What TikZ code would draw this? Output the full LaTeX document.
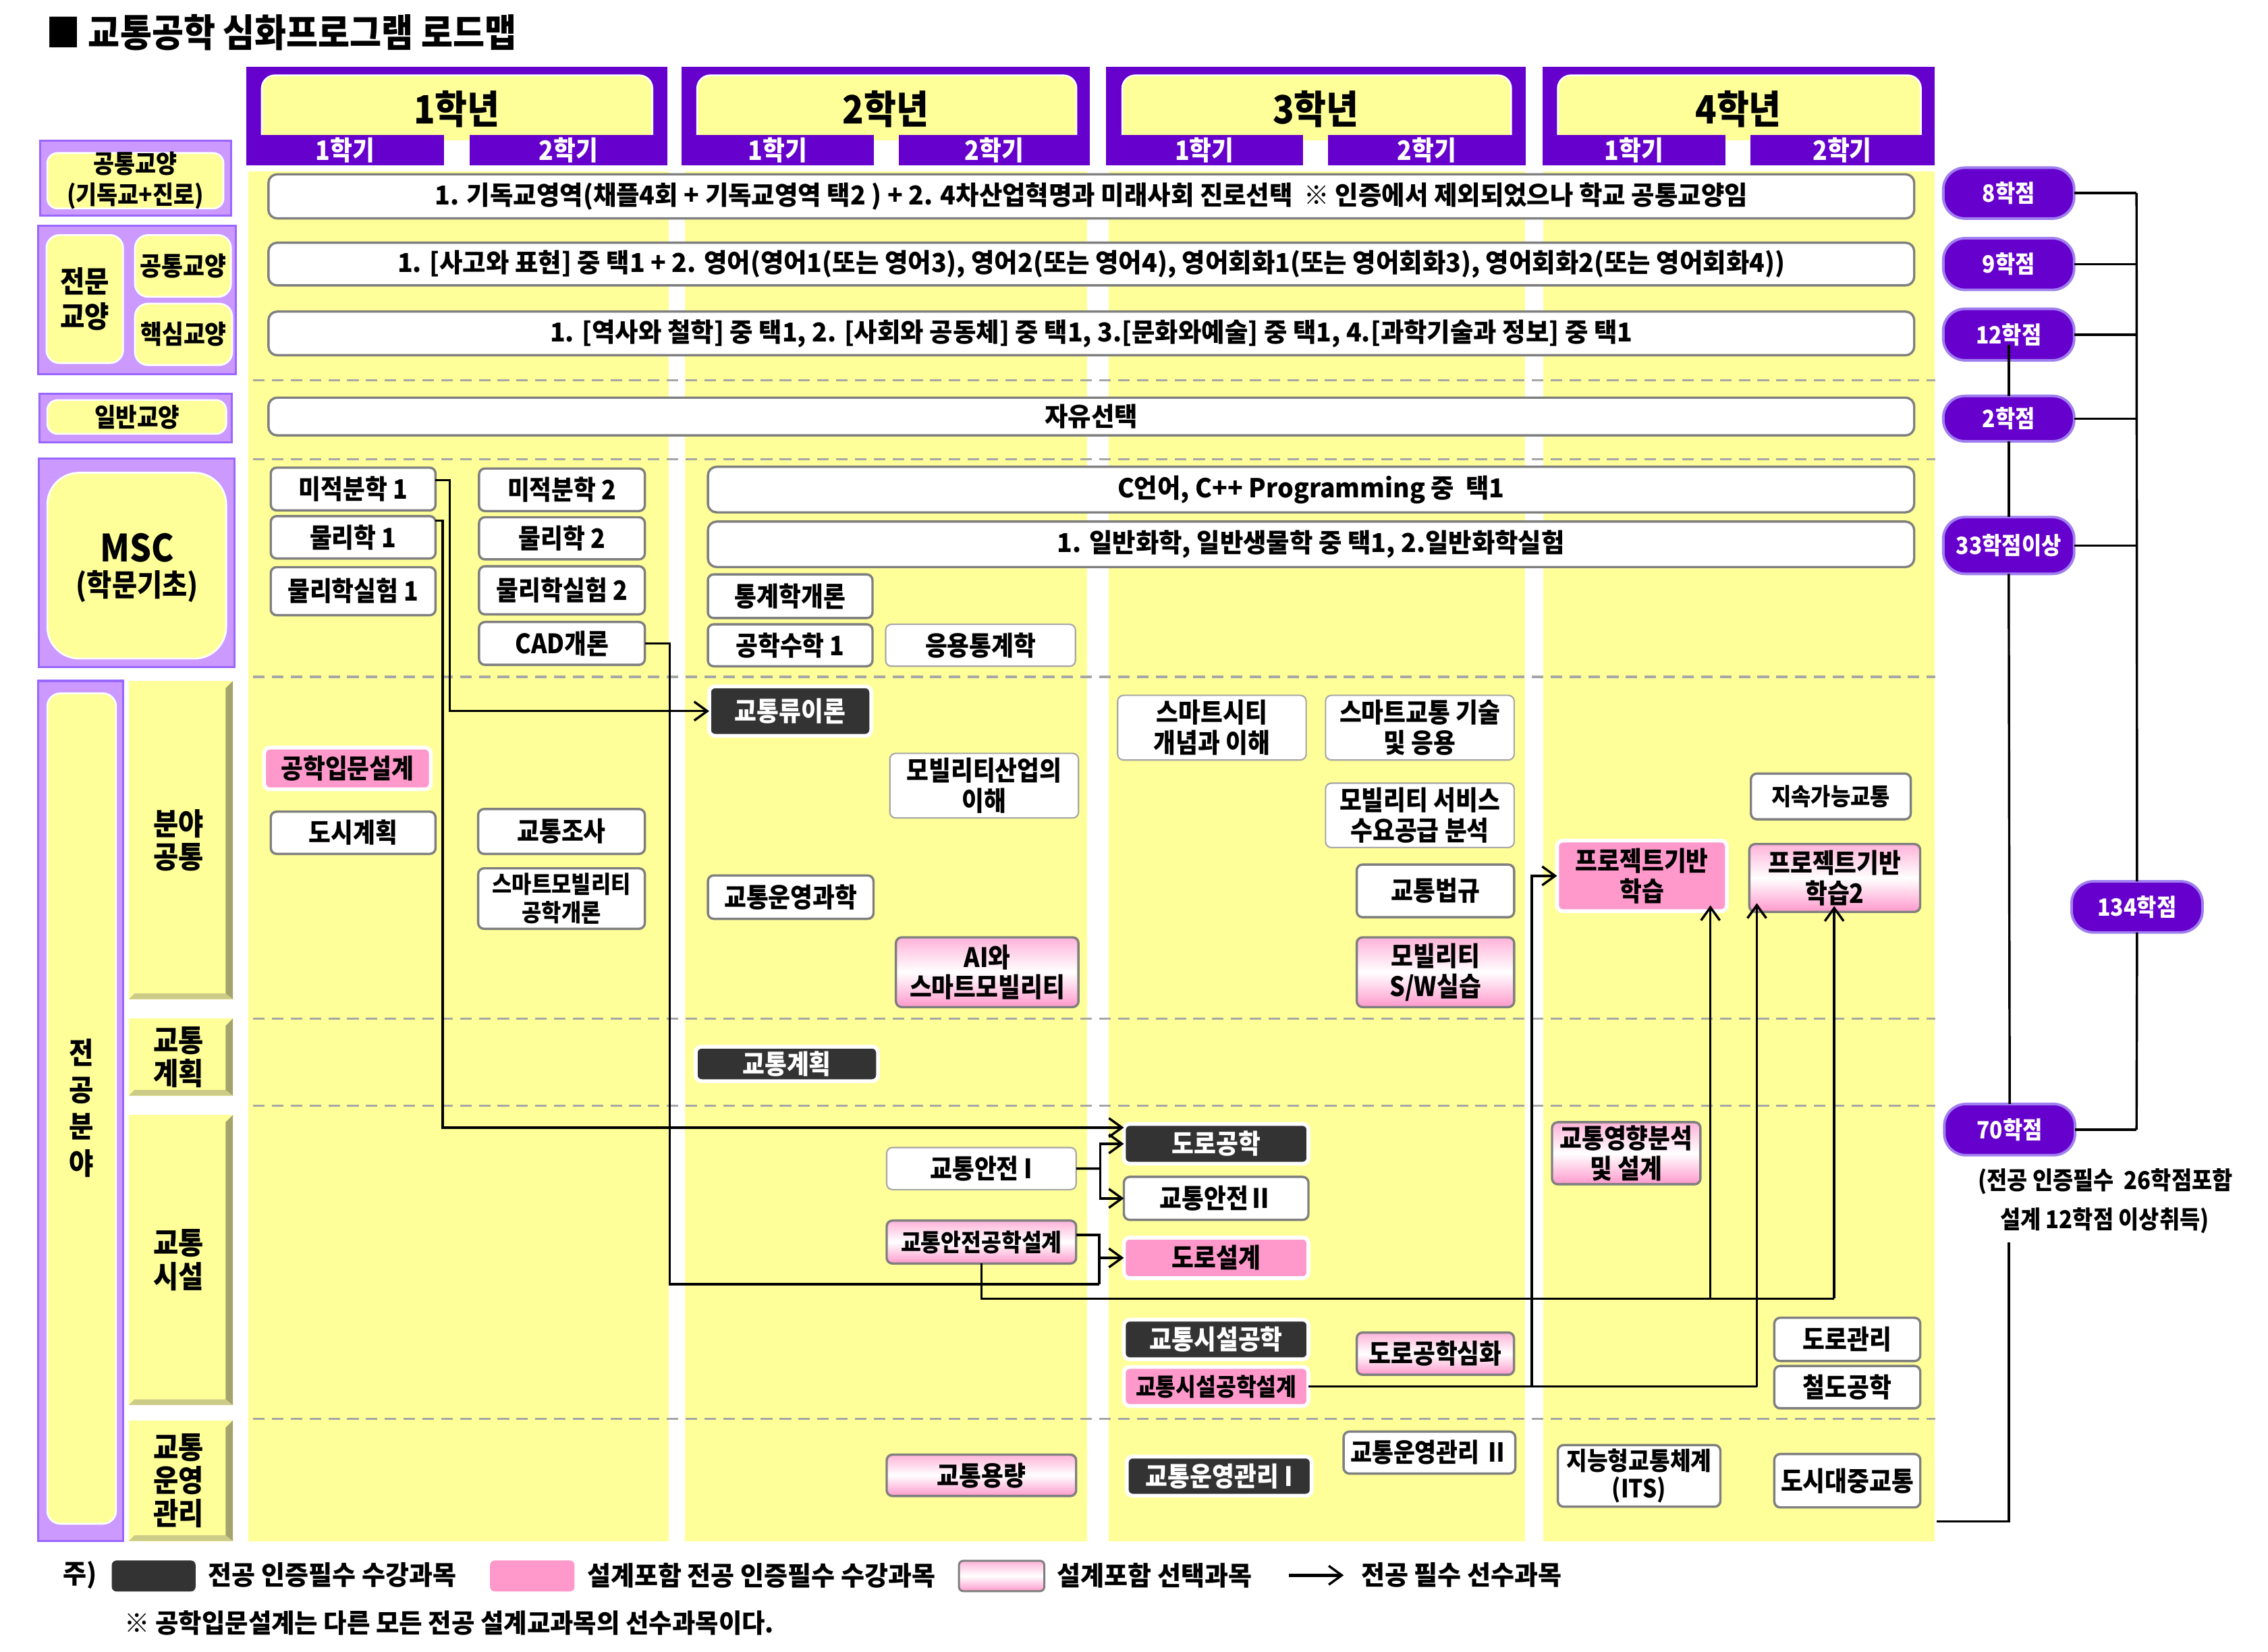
\documentclass[tikz,border=0pt]{standalone}
\usepackage{fontspec}
\setmainfont{Noto Sans CJK KR}[FakeStretch=0.9]
\newfontfamily\ttlfont{Noto Sans CJK KR}[FakeStretch=0.9]
\newfontfamily\rowfont{Noto Sans CJK KR}[FakeStretch=0.97]
\usetikzlibrary{arrows.meta}
\definecolor{purp}{HTML}{6600CC}
\definecolor{lav}{HTML}{CC99FF}
\definecolor{lavd}{HTML}{9966FF}
\definecolor{yel}{HTML}{FFFF99}
\definecolor{pinkS}{HTML}{FF99CC}
\definecolor{dark}{HTML}{333333}
\definecolor{boxgray}{HTML}{7F7F7F}
\definecolor{thingray}{HTML}{A6A6A6}
\definecolor{dashgray}{HTML}{A6A6A6}
\definecolor{oliveD}{HTML}{A3A36B}
\definecolor{oliveL}{HTML}{CCCC88}
\definecolor{pillB}{HTML}{9F7FEF}
\newcommand{\fz}[2]{\fontsize{#1}{#2}\selectfont}
\newcommand{\cbx}[7]{\node[#2, minimum width={#5pt-#3pt}, minimum height={#6pt-#4pt}] (#1) at ({(#3+#5)/2},{(#4+#6)/2}) {#7};}
\newcommand{\subcat}[4]{%
  \fill[yel] (89,#2) rectangle (161,#3);
  \fill[oliveD] (156,{#2+5}) -- (161,#2) -- (161,#3) -- (156,{#3-4}) -- cycle;
  \fill[oliveL] (89,#3) -- (161,#3) -- (156,{#3-4}) -- (93,{#3-4}) -- cycle;
  \node[font=\bfseries\fz{21}{23}] (#1) at (123.5,{(#2+#3)/2}) {#4};}
\tikzset{
  every node/.style={inner sep=0pt, outer sep=0pt, align=center, font=\bfseries\fz{18.5}{20.8}},
  wb/.style={draw=boxgray, line width=1.6pt, fill=white, rounded corners=4pt},
  wt/.style={draw=thingray, line width=1pt, fill=white, rounded corners=4pt},
  db/.style={draw=white, line width=2.6pt, fill=dark, rounded corners=4pt, text=white},
  pb/.style={draw=white, line width=2.6pt, fill=pinkS, rounded corners=4pt},
  gb/.style={draw=boxgray, line width=1.6pt, top color=pinkS!75, bottom color=pinkS, middle color=white, rounded corners=4pt},
  pill/.style={draw=pillB, line width=1.8pt, fill=purp, rounded corners=15pt, text=white, font=\bfseries\fz{16.5}{18}},
  rowb/.style={draw=boxgray, line width=1.6pt, fill=white, rounded corners=6pt, font=\rowfont\bfseries\fz{18}{20}},
  frame/.style={fill=lav, draw=lavd, line width=1.5pt},
  inner/.style={fill=yel, draw=white, line width=1.2pt},
  conn/.style={draw=black, line width=1.6pt},
  arr/.style={conn, -{Straight Barb[length=9pt,width=13pt,line width=1.6pt]}},
  dsh/.style={draw=dashgray, line width=1.5pt, dash pattern=on 8pt off 5pt},
  leg/.style={anchor=west, font=\rowfont\bfseries\fz{18.3}{20}},
}
\begin{document}
\begin{tikzpicture}[x=1pt,y=-1pt]
\useasboundingbox (0,0) rectangle (1568,1141.6);
\fill[white] (0,0) rectangle (1568,1141.6);
% title
\node[anchor=west, font=\ttlfont\bfseries\fz{26.5}{28}] (title) at (31.8,22.4) {■ 교통공학 심화프로그램 로드맵};
% yellow columns
\fill[yel] (171.8,118.7) rectangle (462.4,1065.4);
\fill[yel] (473.5,118.7) rectangle (751.6,1065.4);
\fill[yel] (766.3,118.7) rectangle (1054.4,1065.4);
\fill[yel] (1067.1,118.7) rectangle (1337.3,1065.4);
% year headers
\fill[purp] (170.2,46.2) rectangle (461.4,93.5);
\filldraw[inner, rounded corners=9pt] (181,52.1) rectangle (451,110);
\fill[purp] (170.2,93.1) rectangle (307,114.5);
\fill[purp] (324.7,93.1) rectangle (461.4,114.5);
\fill[white] (307,97) rectangle (324.7,114.6);
\node[font=\bfseries\fz{27}{28}] (y1) at (315.8,75.5) {1학년};
\node[text=white, font=\bfseries\fz{18.5}{20}] (y1a) at (238.6,104) {1학기};
\node[text=white, font=\bfseries\fz{18.5}{20}] (y1b) at (393,104) {2학기};
\fill[purp] (471.2,46.2) rectangle (753.5,93.5);
\filldraw[inner, rounded corners=9pt] (482,52.1) rectangle (744.2,110);
\fill[purp] (471.2,93.1) rectangle (604.2,114.5);
\fill[purp] (621.2,93.1) rectangle (753.5,114.5);
\fill[white] (604.2,97) rectangle (621.2,114.6);
\node[font=\bfseries\fz{27}{28}] (y2) at (612.3,75.5) {2학년};
\node[text=white, font=\bfseries\fz{18.5}{20}] (y2a) at (537.7,104) {1학기};
\node[text=white, font=\bfseries\fz{18.5}{20}] (y2b) at (687.3,104) {2학기};
\fill[purp] (764.7,46.2) rectangle (1054.8,93.5);
\filldraw[inner, rounded corners=9pt] (775.9,52.1) rectangle (1044.7,110);
\fill[purp] (764.7,93.1) rectangle (900.8,114.5);
\fill[purp] (918.3,93.1) rectangle (1054.8,114.5);
\fill[white] (900.8,97) rectangle (918.3,114.6);
\node[font=\bfseries\fz{27}{28}] (y3) at (909.7,75.5) {3학년};
\node[text=white, font=\bfseries\fz{18.5}{20}] (y3a) at (832.7,104) {1학기};
\node[text=white, font=\bfseries\fz{18.5}{20}] (y3b) at (986.5,104) {2학기};
\fill[purp] (1066.4,46.2) rectangle (1337.3,93.5);
\filldraw[inner, rounded corners=9pt] (1077,52.1) rectangle (1328,110);
\fill[purp] (1066.4,93.1) rectangle (1193,114.5);
\fill[purp] (1210,93.1) rectangle (1337.3,114.5);
\fill[white] (1193,97) rectangle (1210,114.6);
\node[font=\bfseries\fz{27}{28}] (y4) at (1201.8,75.5) {4학년};
\node[text=white, font=\bfseries\fz{18.5}{20}] (y4a) at (1129.7,104) {1학기};
\node[text=white, font=\bfseries\fz{18.5}{20}] (y4b) at (1273.6,104) {2학기};
% left categories
\filldraw[frame] (27.8,97.3) rectangle (159.7,148.9);
\filldraw[inner, rounded corners=7pt] (32.7,105.8) rectangle (154.5,144.1);
\node[font=\bfseries\fz{17.5}{21.3}] (cat1) at (93.6,124.7) {공통교양\\(기독교+진로)};
\filldraw[frame] (26.2,156.2) rectangle (162.9,258.7);
\filldraw[inner, rounded corners=9pt] (32.1,162.5) rectangle (85.1,251);
\filldraw[inner, rounded corners=9pt] (93.3,162.5) rectangle (159.7,205.2);
\filldraw[inner, rounded corners=9pt] (93.3,209.9) rectangle (160.5,252.4);
\node[font=\bfseries\fz{20.5}{24}] (cat2) at (58.6,206.7) {전문\\교양};
\node[font=\bfseries\fz{18}{20}] (cat2a) at (126.5,183.8) {공통교양};
\node[font=\bfseries\fz{18}{20}] (cat2b) at (126.9,231) {핵심교양};
\filldraw[frame] (27.2,272.4) rectangle (160.4,305.8);
\filldraw[inner, rounded corners=7pt] (32.7,276.6) rectangle (156.4,299.9);
\node[font=\bfseries\fz{17.8}{20}] (cat3) at (94.8,288.3) {일반교양};
\filldraw[frame] (26.8,316.9) rectangle (162,461.1);
\filldraw[inner, rounded corners=22pt] (32.7,326.8) rectangle (156.4,455.3);
\node[font=\bfseries\fz{26}{28}] (msc) at (94.9,378.8) {MSC};
\node[font=\bfseries\fz{21}{22}] (msc2) at (94.9,405.4) {(학문기초)};
\filldraw[frame] (26.2,470.7) rectangle (85.1,1065.4);
\filldraw[inner, rounded corners=9pt] (32.7,479.3) rectangle (80.2,1053.4);
\node[font=\bfseries\fz{20.5}{25.4}] (major) at (56.3,766) {전\\공\\분\\야};
\subcat{s1}{470.7}{690.8}{분야\\공통}
\subcat{s2}{704.1}{757.5}{교통\\계획}
\subcat{s3}{770.8}{971.4}{교통\\시설}
\subcat{s4}{981.9}{1065.4}{교통\\운영\\관리}
% dashed separators
\draw[dsh] (175,262.8) -- (1338,262.8);
\draw[dsh] (175,317.5) -- (1338,317.5);
\draw[dsh] (175,467.9) -- (1338,467.9);
\draw[dsh] (175,704.1) -- (1338,704.1);
\draw[dsh] (175,764.4) -- (1338,764.4);
\draw[dsh] (175,981) -- (1338,981);
% wide rows
\cbx{r1}{rowb}{185.6}{120.5}{1323.4}{151}{1. 기독교영역(채플4회 + 기독교영역 택2 ) + 2. 4차산업혁명과 미래사회 진로선택\ \ ※ 인증에서 제외되었으나 학교 공통교양임}
\cbx{r2}{rowb}{185.6}{167.8}{1323.4}{197.3}{1. [사고와 표현] 중 택1 + 2. 영어(영어1(또는 영어3), 영어2(또는 영어4), 영어회화1(또는 영어회화3), 영어회화2(또는 영어회화4))}
\cbx{r3}{rowb}{185.6}{215.4}{1323.4}{245.6}{1. [역사와 철학] 중 택1, 2. [사회와 공동체] 중 택1, 3.[문화와예술] 중 택1, 4.[과학기술과 정보] 중 택1}
\cbx{r4}{rowb}{185.6}{274.9}{1323.4}{301}{자유선택}
\cbx{cpp}{rowb}{489.4}{322.7}{1323.4}{354.2}{C언어, C++ Programming 중\ \ 택1}
\cbx{chem}{rowb}{489.4}{360.6}{1323.4}{392}{1. 일반화학, 일반생물학 중 택1, 2.일반화학실험}
% MSC courses
\cbx{mj1}{wb}{187.2}{323.3}{301.1}{352.9}{미적분학 1}
\cbx{ph1}{wb}{187.2}{356.8}{301.1}{386.1}{물리학 1}
\cbx{pl1}{wb}{187.2}{392.1}{301.1}{425.3}{물리학실험 1}
\cbx{mj2}{wb}{331.2}{323.9}{445.8}{353.3}{미적분학 2}
\cbx{ph2}{wb}{331.2}{357.6}{445.8}{386.7}{물리학 2}
\cbx{pl2}{wb}{331.2}{391.5}{445.8}{424.7}{물리학실험 2}
\cbx{cad}{wb}{331.2}{430}{445.8}{459.6}{CAD개론}
\cbx{stat}{wb}{489.4}{397.1}{603.2}{427.3}{통계학개론}
\cbx{em1}{wb}{489.4}{431.6}{603.2}{460.6}{공학수학 1}
\cbx{astat}{wt}{612.3}{431.6}{743.5}{460.6}{응용통계학}
% major courses
\cbx{flow}{db}{490.3}{474.5}{602.3}{508.7}{교통류이론}
\cbx{eid}{pb}{182.6}{516.8}{297.8}{545.7}{공학입문설계}
\cbx{city}{wb}{187.2}{561.1}{301.1}{590.3}{도시계획}
\cbx{survey}{wb}{330.6}{559.3}{445.8}{590.3}{교통조사}
\cbx{smeng}{wb,font=\bfseries\fz{16.5}{20}}{330.6}{600.3}{445.8}{642.1}{스마트모빌리티\\공학개론}
\cbx{mobind}{wt}{615.2}{520.8}{745.6}{565.5}{모빌리티산업의\\이해}
\cbx{opsci}{wb}{489.4}{605.2}{603.9}{635.2}{교통운영과학}
\cbx{ai}{gb}{619.4}{648}{745.6}{696.2}{AI와\\스마트모빌리티}
\cbx{scity}{wt}{772.7}{480.7}{903}{525.4}{스마트시티\\개념과 이해}
\cbx{stech}{wt}{916.4}{480.7}{1046.8}{525.4}{스마트교통 기술\\및 응용}
\cbx{msvc}{wt}{916.4}{541.4}{1046.8}{585.9}{모빌리티 서비스\\수요공급 분석}
\cbx{law}{wb}{938}{597.7}{1046.8}{634.1}{교통법규}
\cbx{msw}{gb}{938}{648}{1046.8}{696.2}{모빌리티\\S/W실습}
\cbx{sust}{wb,font=\bfseries\fz{16.5}{19}}{1210.5}{534.8}{1321}{566.4}{지속가능교통}
\cbx{pbl1}{pb}{1076.5}{581.1}{1193.9}{629.9}{프로젝트기반\\학습}
\cbx{pbl2}{gb}{1209.4}{583.5}{1327.5}{630.4}{프로젝트기반\\학습2}
\cbx{tplan}{db}{481}{723.6}{607}{747.4}{교통계획}
\cbx{road}{db}{777}{777}{904.6}{804.5}{도로공학}
\cbx{safe1}{wt}{613}{793.3}{744}{822.4}{교통안전 I}
\cbx{safe2}{wb}{777}{813.6}{904.6}{843.3}{교통안전Ⅱ}
\cbx{safed}{gb,font=\bfseries\fz{16.8}{18}}{613}{843.8}{744}{873.5}{교통안전공학설계}
\cbx{rdes}{pb}{777}{855.6}{904.6}{883.6}{도로설계}
\cbx{tfac}{db}{777}{912.3}{904.6}{939.7}{교통시설공학}
\cbx{tfacd}{pb,font=\bfseries\fz{16.8}{18}}{777}{945}{904.6}{972}{교통시설공학설계}
\cbx{rdadv}{gb}{938}{921.2}{1046.7}{950.4}{도로공학심화}
\cbx{tia}{gb}{1073}{775.8}{1175.6}{818.7}{교통영향분석\\및 설계}
\cbx{rman}{wb}{1226.7}{911}{1327.6}{940.9}{도로관리}
\cbx{rail}{wb}{1226.7}{944.3}{1327.6}{973.6}{철도공학}
\cbx{cap}{gb}{613}{1005.6}{744}{1034.2}{교통용량}
\cbx{opm1}{db}{779}{1007}{906.8}{1034}{교통운영관리 I}
\cbx{opm2}{wb,font=\bfseries\fz{18}{20}}{928.9}{989.7}{1047.6}{1018.7}{교통운영관리 Ⅱ}
\cbx{its}{wb,font=\bfseries\fz{17.3}{19.5}}{1077}{999}{1189.4}{1041.6}{지능형교통체계\\(ITS)}
\cbx{ptrans}{wb}{1226.7}{1005.2}{1327.6}{1042.1}{도시대중교통}
% credit pills
\cbx{p8}{pill}{1343.5}{115.9}{1434}{151.1}{8학점}
\cbx{p9}{pill}{1343.5}{164.7}{1434}{200.4}{9학점}
\cbx{p12}{pill}{1343.5}{213.5}{1434}{249.1}{12학점}
\cbx{p2}{pill}{1343.5}{273.7}{1434}{305.1}{2학점}
\cbx{p33}{pill}{1343.5}{357.5}{1434}{396.7}{33학점이상}
\cbx{p134}{pill}{1432.2}{609.3}{1522.7}{644.6}{134학점}
\cbx{p70}{pill}{1344.2}{763.2}{1434.6}{798.6}{70학점}
\node[font=\bfseries\fz{17}{19}] (t70a) at (1455.5,817) {(전공 인증필수\ \ 26학점포함};
\node[font=\bfseries\fz{17}{19}] (t70b) at (1455,844) {설계 12학점 이상취득)};
% credit connectors
\coordinate (rb) at (1477.1,133.5);
\draw[conn] (p8.east) -- (rb);
\draw[conn] (p9.east) -- (p9.east -| rb);
\draw[conn] (p12.east) -- (p12.east -| rb);
\draw[conn] (p2.east) -- (p2.east -| rb);
\draw[conn] (p33.east) -- (p33.east -| rb);
\draw[conn] (p70.east) -- (p70.east -| rb);
\draw[conn] (rb) -- (p134.north);
\draw[conn] (p134.south) -- (p70.east -| rb);
\draw[conn] ([yshift=-7pt]p12.center) -- (p2.north);
\draw[conn] (p2.south) -- (p33.north);
\draw[conn] (p33.south) -- (p70.north);
\coordinate (bt) at (1388.8,859);
\coordinate (bc) at (1388.8,1051.7);
\draw[conn] (bt) -- (bc) -- (1339,1051.7);
% course connectors
\draw[arr] (mj1.east |- 0,332) -- (311,332) |- (flow.west);
\draw[arr] (ph1.east |- 0,360) -- (306,360) |- (road.west |- 0,779.5);
\draw[conn] (cad.east) -- (463,444.8) |- (760,887.7);
\draw[conn] (safed.east |- 0,853.7) -- (760,853.7) -- (760,887.7);
\draw[arr] (760,869.6) -- (rdes.west);
\coordinate (sj) at (760.6,807.85);
\draw[conn] (safe1.east) -- (sj);
\draw[arr] (sj) |- (road.west);
\draw[arr] (sj) |- (safe2.west);
\draw[conn] (safed.south) -- (678.5,897.7) -- (1268.1,897.7);
\draw[arr, shorten >=-4pt] (1182.5,897.7) -- (pbl1.south -| 1182.5,0);
\draw[arr, shorten >=-4pt] (1268.1,897.7) -- (pbl2.south -| 1268.1,0);
\draw[conn] (tfacd.east) -- (1214.6,958.5);
\draw[arr, shorten >=-6pt] (1214.6,958.5) -- (pbl2.south -| 1214.6,0);
\draw[arr] (1059,958.5) |- (pbl1.west);
% legend
\node (lz) at (55.5,1089) [font=\rowfont\bfseries\fz{18.3}{20}] {주)};
\filldraw[fill=dark, draw=dark, rounded corners=3pt] (77.5,1079) rectangle (135,1100);
\node[leg] (l1) at (144,1089) {전공 인증필수 수강과목};
\filldraw[fill=pinkS, draw=pinkS, rounded corners=3pt] (339,1079) rectangle (397,1100);
\node[leg] (l2) at (406,1089) {설계포함 전공 인증필수 수강과목};
\shade[top color=pinkS!75, bottom color=pinkS, middle color=white, rounded corners=3pt] (663,1079) rectangle (722,1100);
\draw[boxgray, line width=1.4pt, rounded corners=3pt] (663,1079) rectangle (722,1100);
\node[leg] (l3) at (731,1089) {설계포함 선택과목};
\coordinate (la1) at (891,1089);
\coordinate (la2) at (929,1089);
\draw[arr, line width=2.2pt] (la1) -- (la2);
\node[leg] (l4) at (941,1089) {전공 필수 선수과목};
\node[leg, font=\rowfont\bfseries\fz{18}{20}] (l5) at (86,1122) {※ 공학입문설계는 다른 모든 전공 설계교과목의 선수과목이다.};
\end{tikzpicture}
\end{document}
